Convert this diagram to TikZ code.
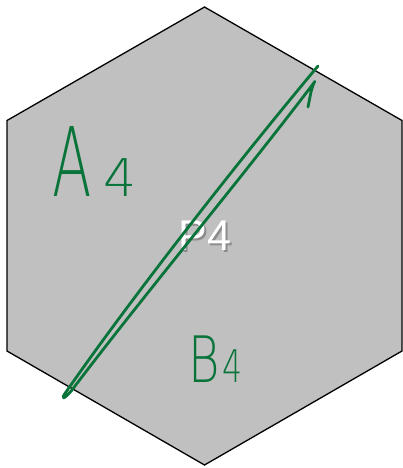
\documentclass[tikz,border=0pt]{standalone}
\usepackage{graphicx}
\usepackage{fontspec}
\setmainfont{Liberation Sans}
\newfontfamily\handfont{DejaVu Sans ExtraLight}
\definecolor{hexgray}{RGB}{192,192,192}
\definecolor{shadowgray}{RGB}{140,140,140}
\definecolor{inkgreen}{RGB}{8,116,58}
\tikzset{
  cell/.style={draw=black, fill=hexgray, line width=1.3pt, line join=miter},
  cellname/.style={text=white, font=\fontsize{43}{43}\selectfont, inner sep=0pt},
  ink/.style={draw=inkgreen, line width=2.8pt, line cap=round, line join=round},
  handlabel/.style={text=inkgreen, font=\handfont, inner sep=0pt, anchor=base west}
}
\newcommand{\shadowed}[1]{\rlap{\hspace{2pt}\raisebox{-2.5pt}{\color{shadowgray}#1}}#1}
\begin{document}
\begin{tikzpicture}[x=1pt,y=-1pt]
  \useasboundingbox (0,0) rectangle (403,468);
  \coordinate (N) at (204.5,7);
  \coordinate (NE) at (402,120.5);
  \coordinate (SE) at (402,351);
  \coordinate (S) at (204.5,465);
  \coordinate (SW) at (7,351);
  \coordinate (NW) at (7,120.5);
  \filldraw[cell] (N) -- (NE) -- (SE) -- (S) -- (SW) -- (NW) -- cycle;

  \node[cellname] (name) at (205,236.5) {\shadowed{P4}};

  \node[handlabel] (A4) at (52,196) {\scalebox{0.6}[1]{\fontsize{96}{96}\selectfont A}\hspace{12pt}{\fontsize{52}{52}\selectfont 4}};
  \node[handlabel] (B4) at (188,382) {\scalebox{0.75}[1]{\fontsize{64}{64}\selectfont B}\hspace{3pt}\scalebox{0.7}[1]{\fontsize{45}{45}\selectfont 4}};

  % the cut
  \draw[ink] (318,66) .. controls (235,165) and (130,300) .. (66,392)
    .. controls (60,400) and (64,400) .. (72,390)
    .. controls (140,300) and (240,180) .. (313,84)
    .. controls (317,79) and (314,80) .. (311,92) -- (308,107);
\end{tikzpicture}
\end{document}
